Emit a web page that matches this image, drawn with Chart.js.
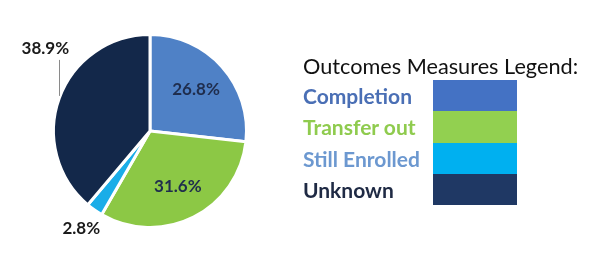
<!DOCTYPE html>
<html>
<head>
<meta charset="utf-8">
<script src="https://cdn.jsdelivr.net/npm/chart.js@4"></script>
<style>
  html, body { margin: 0; padding: 0; background: #fff; }
  #wrap { position: relative; width: 595px; height: 269px; }
  #pie { position: absolute; left: 0; top: 0; }
  #legend { position: absolute; left: 303px; top: 53px; font-family: Lato, "Liberation Sans", sans-serif; }
  #legend .title { font-size: 21.7px; color: #111; height: 27px; line-height: 27px; white-space: nowrap; }
  #legend .row { position: relative; height: 31.3px; }
  #legend .row span { position: absolute; left: 0; top: 0; line-height: 31px; font-size: 21px; font-weight: bold; white-space: nowrap; }
  #legend .row i { position: absolute; left: 130px; top: 0; width: 84px; height: 31.3px; }
</style>
</head>
<body>
<div id="wrap">
  <canvas id="pie" width="595" height="269"></canvas>
  <div id="legend"></div>
</div>
<script>
const categories = ["Completion", "Transfer out", "Still Enrolled", "Unknown"];
const shares = [26.8, 31.6, 2.8, 38.9];
const sliceColors = ["#4F81C6", "#8CC845", "#1AADE8", "#13284A"];
const swatchColors = ["#4472C4", "#92D050", "#00B0F0", "#1F3864"];
const textColors = ["#4A6FB5", "#8FCB4E", "#6C98D0", "#1F2A44"];
const legendTitle = "Outcomes Measures Legend:";

// legend: text on the left, colour bar on the right
let legend = document.getElementById("legend");
let html = '<div class="title">' + legendTitle + '</div>';
categories.forEach((c, i) => {
  html += '<div class="row"><span style="color:' + textColors[i] + '">' + c +
    '</span><i style="background:' + swatchColors[i] + '"></i></div>';
});
legend.innerHTML = html;

const pctLabels = {
  id: "pctLabels",
  afterDatasetsDraw(chart) {
    const ctx = chart.ctx;
    const arcs = chart.getDatasetMeta(0).data;
    ctx.save();
    ctx.font = "bold 17px Lato, 'Liberation Sans', sans-serif";
    ctx.textAlign = "center";
    ctx.textBaseline = "middle";
    arcs.forEach((arc, i) => {
      const p = arc.getProps(["x", "y", "startAngle", "endAngle", "outerRadius"], true);
      const mid = (p.startAngle + p.endAngle) / 2;
      const txt = shares[i].toFixed(1) + "%";
      const cos = Math.cos(mid), sin = Math.sin(mid);
      if (i < 2) {
        ctx.fillStyle = "#1F2D4D";
        ctx.fillText(txt, p.x + cos * p.outerRadius * 0.64, p.y + sin * p.outerRadius * 0.64);
      } else if (i == 2) {
        ctx.fillStyle = "#1a1a1a";
        ctx.fillText(txt, p.x + cos * p.outerRadius * 1.24, p.y + sin * p.outerRadius * 1.24);
      } else {
        // leader line going straight up from the slice edge
        const ex = p.x + cos * p.outerRadius, ey = p.y + sin * p.outerRadius;
        ctx.strokeStyle = "#8a8a8a";
        ctx.lineWidth = 1;
        ctx.beginPath();
        ctx.moveTo(Math.round(ex) + 0.5, ey - 2);
        ctx.lineTo(Math.round(ex) + 0.5, ey - 38);
        ctx.stroke();
        ctx.fillStyle = "#1a1a1a";
        ctx.fillText(txt, ex - 14, ey - 49);
      }
    });
    ctx.restore();
  }
};

new Chart(document.getElementById("pie"), {
  type: "pie",
  data: {
    labels: categories,
    datasets: [{
      data: shares,
      backgroundColor: sliceColors,
      borderColor: "#ffffff",
      borderWidth: 3
    }]
  },
  options: {
    responsive: false,
    animation: false,
    layout: { padding: { left: 52, right: 347, top: 33, bottom: 40 } },
    plugins: { legend: { display: false }, tooltip: { enabled: false } }
  },
  plugins: [pctLabels]
});
</script>
</body>
</html>
